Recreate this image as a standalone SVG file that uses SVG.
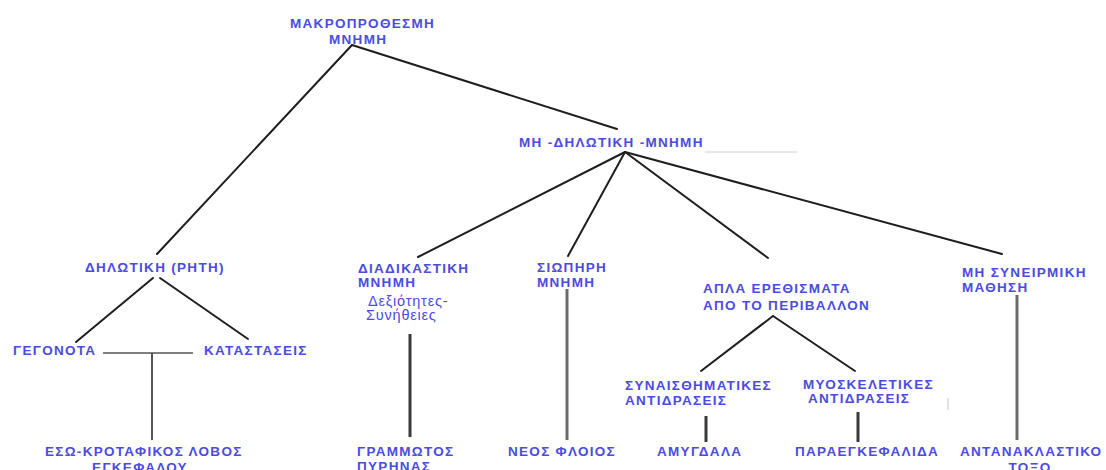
<svg xmlns="http://www.w3.org/2000/svg" width="1106" height="470" viewBox="0 0 1106 470">
  <style>
    .lbl { font-family: "Liberation Sans", Arial, sans-serif; font-weight: bold; font-size: 13.5px; fill: #4b4be0; letter-spacing: 1.3px; }
    .sub { font-family: "Liberation Sans", Arial, sans-serif; font-size: 14.5px; fill: #4b4be0; letter-spacing: 0.8px; }
    .edge { stroke: #1e1e1e; stroke-width: 2; fill: none; stroke-linecap: round; }
    .stem { stroke: #3a3a3a; stroke-width: 3; fill: none; }
    .stem-light { stroke: #6a6a6a; stroke-width: 3; fill: none; }
  </style>
  <rect width="1106" height="470" fill="#ffffff"/>

  <!-- connectors -->
  <g id="connectors">
    <!-- root -->
    <line class="edge" x1="352" y1="45" x2="157" y2="254"/>
    <line class="edge" x1="352" y1="45" x2="617" y2="129"/>
    <!-- non-declarative hub -->
    <line class="edge" x1="625" y1="152" x2="418" y2="257"/>
    <line class="edge" x1="625" y1="152" x2="568" y2="256"/>
    <line class="edge" x1="625" y1="152" x2="768" y2="258"/>
    <line class="edge" x1="625" y1="152" x2="1002" y2="254"/>
    <line x1="705" y1="152" x2="797" y2="152" stroke="#d0d0d0" stroke-width="1"/>
    <!-- declarative -->
    <line class="edge" x1="153" y1="278" x2="76" y2="342"/>
    <line class="edge" x1="160" y1="278" x2="248" y2="339"/>
    <line x1="103" y1="353" x2="193" y2="353" stroke="#555" stroke-width="1.5"/>
    <line x1="152" y1="353" x2="152" y2="440" stroke="#555" stroke-width="2"/>
    <!-- procedural -->
    <line class="stem" x1="410" y1="334" x2="410" y2="437"/>
    <!-- priming -->
    <line class="stem-light" x1="567" y1="289" x2="567" y2="440"/>
    <!-- simple stimuli -->
    <line class="edge" x1="773" y1="316" x2="701" y2="371"/>
    <line class="edge" x1="773" y1="316" x2="855" y2="371"/>
    <line class="stem" x1="706" y1="416" x2="706" y2="442"/>
    <line class="stem" x1="858" y1="412" x2="858" y2="442"/>
    <line x1="948" y1="398" x2="948" y2="410" stroke="#d8d8d8" stroke-width="1.5"/>
    <!-- non-associative -->
    <line class="stem-light" x1="1017" y1="295" x2="1017" y2="440"/>
  </g>

  <g id="long-term">
    <text class="lbl" x="290" y="28">ΜΑΚΡΟΠΡΟΘΕΣΜΗ</text>
    <text class="lbl" x="329" y="44">ΜΝΗΜΗ</text>
  </g>

  <g id="non-declarative">
    <text class="lbl" x="519" y="147">ΜΗ -ΔΗΛΩΤΙΚΗ -ΜΝΗΜΗ</text>
  </g>

  <g id="declarative">
    <text class="lbl" x="85" y="272">ΔΗΛΩΤΙΚΗ (ΡΗΤΗ)</text>
  </g>

  <g id="facts">
    <text class="lbl" x="13" y="355">ΓΕΓΟΝΟΤΑ</text>
  </g>

  <g id="events">
    <text class="lbl" x="204" y="355">ΚΑΤΑΣΤΑΣΕΙΣ</text>
  </g>

  <g id="temporal-lobe">
    <text class="lbl" x="45" y="456">ΕΣΩ-ΚΡΟΤΑΦΙΚΟΣ ΛΟΒΟΣ</text>
    <text class="lbl" x="140" y="472" text-anchor="middle">ΕΓΚΕΦΑΛΟΥ</text>
  </g>

  <g id="procedural">
    <text class="lbl" x="358" y="273">ΔΙΑΔΙΚΑΣΤΙΚΗ</text>
    <text class="lbl" x="358" y="287">ΜΝΗΜΗ</text>
    <text class="sub" x="368" y="306">Δεξιότητες-</text>
    <text class="sub" x="366" y="320">Συνήθειες</text>
  </g>

  <g id="striatum">
    <text class="lbl" x="357" y="456">ΓΡΑΜΜΩΤΟΣ</text>
    <text class="lbl" x="357" y="471">ΠΥΡΗΝΑΣ</text>
  </g>

  <g id="priming">
    <text class="lbl" x="537" y="272">ΣΙΩΠΗΡΗ</text>
    <text class="lbl" x="537" y="287">ΜΝΗΜΗ</text>
  </g>

  <g id="neocortex">
    <text class="lbl" x="508" y="456">ΝΕΟΣ ΦΛΟΙΟΣ</text>
  </g>

  <g id="simple-stimuli">
    <text class="lbl" x="703" y="293">ΑΠΛΑ ΕΡΕΘΙΣΜΑΤΑ</text>
    <text class="lbl" x="703" y="310">ΑΠΟ ΤΟ ΠΕΡΙΒΑΛΛΟΝ</text>
  </g>

  <g id="emotional-responses">
    <text class="lbl" x="625" y="390">ΣΥΝΑΙΣΘΗΜΑΤΙΚΕΣ</text>
    <text class="lbl" x="625" y="405">ΑΝΤΙΔΡΑΣΕΙΣ</text>
  </g>

  <g id="amygdala">
    <text class="lbl" x="657" y="456">ΑΜΥΓΔΑΛΑ</text>
  </g>

  <g id="motor-responses">
    <text class="lbl" x="803" y="389">ΜΥΟΣΚΕΛΕΤΙΚΕΣ</text>
    <text class="lbl" x="808" y="403">ΑΝΤΙΔΡΑΣΕΙΣ</text>
  </g>

  <g id="cerebellum">
    <text class="lbl" x="795" y="456">ΠΑΡΑΕΓΚΕΦΑΛΙΔΑ</text>
  </g>

  <g id="non-associative">
    <text class="lbl" x="962" y="277">ΜΗ ΣΥΝΕΙΡΜΙΚΗ</text>
    <text class="lbl" x="962" y="292">ΜΑΘΗΣΗ</text>
  </g>

  <g id="reflex-arc">
    <text class="lbl" x="960" y="456">ΑΝΤΑΝΑΚΛΑΣΤΙΚΟ</text>
    <text class="lbl" x="1030" y="472" text-anchor="middle">ΤΟΞΟ</text>
  </g>
</svg>
